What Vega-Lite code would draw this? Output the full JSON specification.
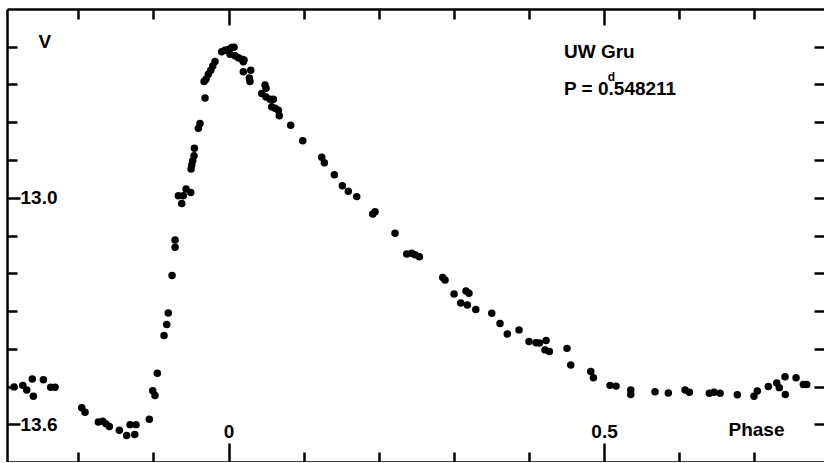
{
  "$schema": "https://vega.github.io/schema/vega-lite/v6.json",
  "width": 817,
  "height": 453,
  "autosize": {"type": "none"},
  "padding": {"left": 7, "top": 9, "right": 0, "bottom": 0},
  "background": "white",
  "config": {
    "view": {"stroke": null},
    "font": "Liberation Sans",
    "axis": {
      "domain": false, "domainColor": "black", "domainWidth": 2.5, "grid": false, "tickColor": "black", "tickWidth": 2.5,
      "labelColor": "black", "labelFontSize": 19, "labelFontWeight": "bold",
      "titleColor": "black", "titleFontSize": 19, "titleFontWeight": "bold"
    }
  },
  "datasets": {
    "obs": [
      {"phase": -0.2856, "mag": 13.501}, {"phase": -0.2740, "mag": 13.497}, {"phase": -0.2687, "mag": 13.509},
      {"phase": -0.2613, "mag": 13.480}, {"phase": -0.2599, "mag": 13.526}, {"phase": -0.2466, "mag": 13.482},
      {"phase": -0.2368, "mag": 13.502}, {"phase": -0.2310, "mag": 13.502}, {"phase": -0.1955, "mag": 13.556},
      {"phase": -0.1911, "mag": 13.568}, {"phase": -0.1734, "mag": 13.594}, {"phase": -0.1675, "mag": 13.592},
      {"phase": -0.1631, "mag": 13.599}, {"phase": -0.1587, "mag": 13.606}, {"phase": -0.1454, "mag": 13.616},
      {"phase": -0.1356, "mag": 13.630}, {"phase": -0.1312, "mag": 13.601}, {"phase": -0.1232, "mag": 13.601},
      {"phase": -0.1249, "mag": 13.627}, {"phase": -0.1055, "mag": 13.587}, {"phase": -0.1009, "mag": 13.511},
      {"phase": -0.0979, "mag": 13.524}, {"phase": -0.0948, "mag": 13.465}, {"phase": -0.0859, "mag": 13.365},
      {"phase": -0.0823, "mag": 13.336}, {"phase": -0.0802, "mag": 13.305}, {"phase": -0.0752, "mag": 13.206},
      {"phase": -0.0712, "mag": 13.112}, {"phase": -0.0712, "mag": 13.131}, {"phase": -0.0668, "mag": 12.995},
      {"phase": -0.0623, "mag": 13.015}, {"phase": -0.0602, "mag": 12.995}, {"phase": -0.0566, "mag": 12.977},
      {"phase": -0.0503, "mag": 12.986}, {"phase": -0.0499, "mag": 12.924}, {"phase": -0.0490, "mag": 12.913},
      {"phase": -0.0477, "mag": 12.902}, {"phase": -0.0459, "mag": 12.889}, {"phase": -0.0455, "mag": 12.869},
      {"phase": -0.0402, "mag": 12.816}, {"phase": -0.0380, "mag": 12.803}, {"phase": -0.0313, "mag": 12.736},
      {"phase": -0.0326, "mag": 12.692}, {"phase": -0.0300, "mag": 12.686}, {"phase": -0.0269, "mag": 12.673},
      {"phase": -0.0237, "mag": 12.662}, {"phase": -0.0210, "mag": 12.651}, {"phase": -0.0180, "mag": 12.639},
      {"phase": -0.0091, "mag": 12.613}, {"phase": -0.0047, "mag": 12.609}, {"phase": -0.0003, "mag": 12.607},
      {"phase": 0.0043, "mag": 12.602}, {"phase": 0.0073, "mag": 12.601}, {"phase": 0.0020, "mag": 12.620},
      {"phase": 0.0087, "mag": 12.624}, {"phase": 0.0130, "mag": 12.629}, {"phase": 0.0176, "mag": 12.633},
      {"phase": 0.0197, "mag": 12.640}, {"phase": 0.0206, "mag": 12.635}, {"phase": 0.0197, "mag": 12.666},
      {"phase": 0.0296, "mag": 12.662}, {"phase": 0.0277, "mag": 12.683}, {"phase": 0.0286, "mag": 12.692},
      {"phase": 0.0486, "mag": 12.701}, {"phase": 0.0499, "mag": 12.710}, {"phase": 0.0442, "mag": 12.724},
      {"phase": 0.0499, "mag": 12.733}, {"phase": 0.0553, "mag": 12.739}, {"phase": 0.0597, "mag": 12.739},
      {"phase": 0.0575, "mag": 12.759}, {"phase": 0.0619, "mag": 12.763}, {"phase": 0.0663, "mag": 12.768},
      {"phase": 0.0676, "mag": 12.783}, {"phase": 0.0828, "mag": 12.808}, {"phase": 0.0988, "mag": 12.849},
      {"phase": 0.1241, "mag": 12.893}, {"phase": 0.1276, "mag": 12.907}, {"phase": 0.1409, "mag": 12.939},
      {"phase": 0.1515, "mag": 12.968}, {"phase": 0.1595, "mag": 12.983}, {"phase": 0.1707, "mag": 12.997},
      {"phase": 0.1920, "mag": 13.043}, {"phase": 0.1951, "mag": 13.037}, {"phase": 0.2217, "mag": 13.094},
      {"phase": 0.2373, "mag": 13.149}, {"phase": 0.2439, "mag": 13.147}, {"phase": 0.2483, "mag": 13.151},
      {"phase": 0.2541, "mag": 13.156}, {"phase": 0.2852, "mag": 13.211}, {"phase": 0.2883, "mag": 13.218},
      {"phase": 0.3003, "mag": 13.255}, {"phase": 0.3162, "mag": 13.247}, {"phase": 0.3202, "mag": 13.253},
      {"phase": 0.3092, "mag": 13.279}, {"phase": 0.3180, "mag": 13.284}, {"phase": 0.3292, "mag": 13.296},
      {"phase": 0.3505, "mag": 13.306}, {"phase": 0.3615, "mag": 13.333}, {"phase": 0.3712, "mag": 13.361},
      {"phase": 0.3868, "mag": 13.350}, {"phase": 0.4001, "mag": 13.381}, {"phase": 0.4095, "mag": 13.384},
      {"phase": 0.4139, "mag": 13.385}, {"phase": 0.4228, "mag": 13.378}, {"phase": 0.4214, "mag": 13.403},
      {"phase": 0.4272, "mag": 13.407}, {"phase": 0.4507, "mag": 13.399}, {"phase": 0.4557, "mag": 13.443},
      {"phase": 0.4823, "mag": 13.460}, {"phase": 0.4858, "mag": 13.477}, {"phase": 0.5080, "mag": 13.497},
      {"phase": 0.5160, "mag": 13.499}, {"phase": 0.5356, "mag": 13.509}, {"phase": 0.5356, "mag": 13.521},
      {"phase": 0.5679, "mag": 13.514}, {"phase": 0.5856, "mag": 13.517}, {"phase": 0.6079, "mag": 13.509},
      {"phase": 0.6136, "mag": 13.515}, {"phase": 0.6402, "mag": 13.518}, {"phase": 0.6465, "mag": 13.515},
      {"phase": 0.6545, "mag": 13.518}, {"phase": 0.6775, "mag": 13.522}, {"phase": 0.6997, "mag": 13.526},
      {"phase": 0.7041, "mag": 13.512}, {"phase": 0.7188, "mag": 13.500}, {"phase": 0.7300, "mag": 13.491},
      {"phase": 0.7334, "mag": 13.503}, {"phase": 0.7410, "mag": 13.474}, {"phase": 0.7414, "mag": 13.521},
      {"phase": 0.7557, "mag": 13.477}, {"phase": 0.7654, "mag": 13.495}, {"phase": 0.7699, "mag": 13.495}
    ],
    "notes": [
      {"phase": 0.4467, "mag": 12.630, "label": "UW Gru"},
      {"phase": 0.4467, "mag": 12.7275, "label": "P = 0.548211"}
    ],
    "sup": [
      {"phase": 0.5100, "mag": 12.692, "label": "d"}
    ]
  },
  "layer": [
    {
      "data": {"name": "obs"},
      "mark": {"type": "circle", "size": 56, "color": "black", "opacity": 1},
      "encoding": {
        "x": {
          "field": "phase", "type": "quantitative",
          "scale": {"domain": [-0.295, 0.7929], "nice": false, "zero": false},
          "axis": {
            "orient": "bottom", "values": [-0.2, -0.1, 0, 0.1, 0.2, 0.3, 0.4, 0.5, 0.6, 0.7],
            "domain": true, "labels": false, "title": null,
            "tickSize": {"condition": {"test": "abs(datum.value) < 0.001 || abs(datum.value - 0.5) < 0.001", "value": -19}, "value": -10}
          }
        },
        "y": {
          "field": "mag", "type": "quantitative",
          "scale": {"domain": [12.5, 13.7], "reverse": true, "nice": false, "zero": false},
          "axis": {
            "orient": "left", "values": [12.6, 12.7, 12.8, 12.9, 13.0, 13.1, 13.2, 13.3, 13.4, 13.5, 13.6],
            "domain": true, "labels": false, "title": null,
            "tickSize": {"condition": {"test": "abs(datum.value - 13) < 0.001 || abs(datum.value - 13.6) < 0.001", "value": -13}, "value": -10}
          }
        }
      }
    },
    {
      "data": {"name": "notes"},
      "mark": {"type": "text", "align": "left", "baseline": "alphabetic", "fontSize": 19, "fontWeight": "bold", "color": "black"},
      "encoding": {
        "x": {
          "field": "phase", "type": "quantitative",
          "scale": {"domain": [-0.295, 0.7929], "nice": false, "zero": false},
          "axis": {
            "orient": "top", "values": [-0.2, -0.1, 0, 0.1, 0.2, 0.3, 0.4, 0.5, 0.6, 0.7],
            "domain": true, "labels": false, "title": null,
            "tickSize": {"condition": {"test": "abs(datum.value) < 0.001 || abs(datum.value - 0.5) < 0.001", "value": -16}, "value": -10}
          }
        },
        "y": {
          "field": "mag", "type": "quantitative",
          "scale": {"domain": [12.5, 13.7], "reverse": true, "nice": false, "zero": false},
          "axis": {
            "orient": "right", "values": [12.6, 12.7, 12.8, 12.9, 13.0, 13.1, 13.2, 13.3, 13.4, 13.5, 13.6],
            "labels": false, "title": null, "tickSize": -10
          }
        },
        "text": {"field": "label"}
      }
    },
    {
      "data": {"name": "sup"},
      "mark": {"type": "text", "align": "center", "baseline": "alphabetic", "fontSize": 12, "fontWeight": "bold", "color": "black"},
      "encoding": {
        "x": {
          "field": "phase", "type": "quantitative",
          "scale": {"domain": [-0.295, 0.7929], "nice": false, "zero": false},
          "axis": {
            "orient": "bottom", "values": [0, 0.5], "ticks": false,
            "labelExpr": "datum.value < 0.25 ? '0' : '0.5'",
            "labelBaseline": "alphabetic", "labelPadding": -25,
            "title": "Phase", "titleX": 721, "titleY": -27, "titleAlign": "left", "titleBaseline": "alphabetic", "titleAnchor": null
          }
        },
        "y": {
          "field": "mag", "type": "quantitative",
          "scale": {"domain": [12.5, 13.7], "reverse": true, "nice": false, "zero": false},
          "axis": {
            "orient": "left", "values": [13.0, 13.6], "ticks": false,
            "labelExpr": "datum.value < 13.3 ? '13.0' : '13.6'",
            "labelAlign": "left", "labelBaseline": "middle", "labelPadding": -13,
            "title": "V", "titleAngle": 0, "titleX": 31, "titleY": 38, "titleAlign": "left", "titleBaseline": "alphabetic"
          }
        },
        "text": {"field": "label"}
      }
    }
  ],
  "resolve": {"axis": {"x": "independent", "y": "independent"}}
}
